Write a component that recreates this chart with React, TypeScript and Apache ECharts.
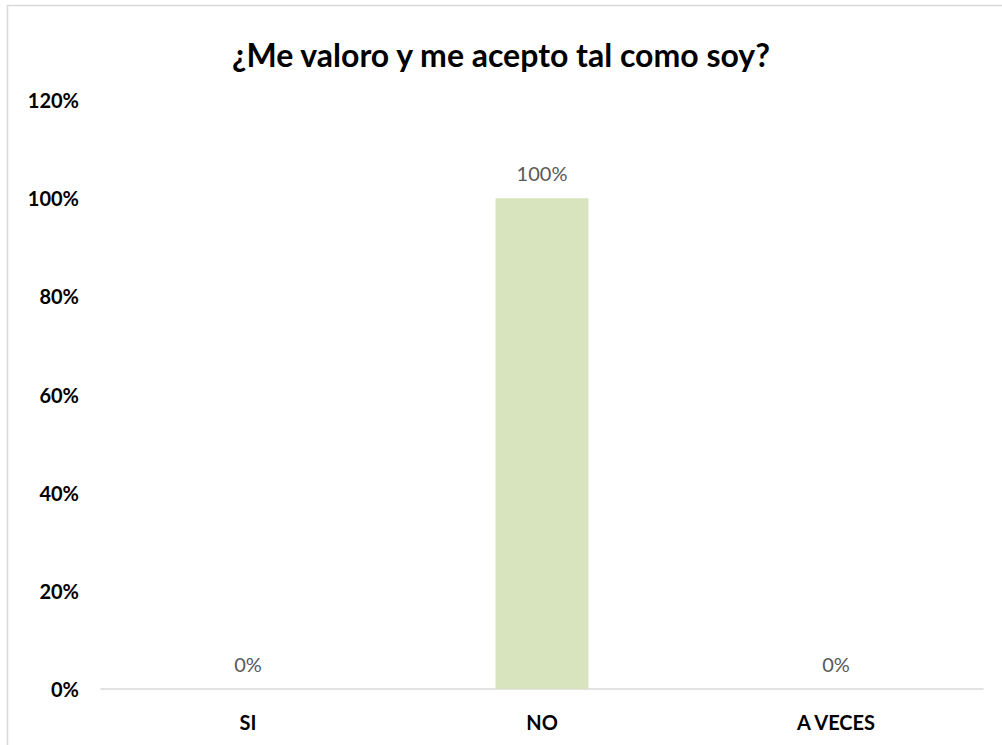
import React, { useEffect, useRef } from "react";
import * as echarts from "echarts";

const categories = ["SI", "NO", "A VECES"];
const values = [0, 1, 0];
const yTicks = [0, 0.2, 0.4, 0.6, 0.8, 1.0, 1.2];
const titleText = "¿Me valoro y me acepto tal como soy?";

const FONT = "Lato, 'Open Sans', sans-serif";

export default function App() {
  const ref = useRef<HTMLDivElement>(null);
  useEffect(() => {
    if (!ref.current) return;
    const chart = echarts.init(ref.current, null, { renderer: "svg" });
    chart.setOption({
      animation: false,
      backgroundColor: "#ffffff",
      title: {
        text: titleText,
        left: "center",
        top: 33,
        textStyle: { fontFamily: FONT, fontWeight: "bold", fontSize: 32, color: "#000000" },
      },
      graphic: [
        {
          type: "rect",
          shape: { x: 7.5, y: 5.5, width: 1010, height: 760 },
          style: { fill: "none", stroke: "#d9d9d9", lineWidth: 1.5 },
          silent: true,
        },
      ],
      grid: { left: 101, right: 19, top: 100, bottom: 56, containLabel: false },
      xAxis: {
        type: "category",
        data: categories,
        axisLine: { show: true, lineStyle: { color: "#d9d9d9", width: 1.5 } },
        axisTick: { show: false },
        axisLabel: {
          margin: 23,
          fontFamily: FONT,
          fontWeight: "bold",
          fontSize: 20,
          color: "#000000",
        },
      },
      yAxis: {
        type: "value",
        min: 0,
        max: yTicks[yTicks.length - 1],
        interval: 0.2,
        splitLine: { show: false },
        axisLine: { show: false },
        axisTick: { show: false },
        axisLabel: {
          margin: 22,
          fontFamily: FONT,
          fontWeight: "bold",
          fontSize: 20,
          color: "#000000",
          formatter: (v: number) => `${Math.round(v * 100)}%`,
        },
      },
      series: [
        {
          type: "bar",
          data: values,
          barWidth: 93,
          itemStyle: { color: "#d7e4bd" },
          label: {
            show: true,
            position: "top",
            distance: 15,
            fontFamily: FONT,
            fontSize: 20,
            color: "#595959",
            formatter: (p: any) => `${Math.round(p.value * 100)}%`,
          },
        },
      ],
    });
    return () => chart.dispose();
  }, []);
  return (
    <div
      ref={ref}
      style={{ position: "fixed", left: 0, top: 0, width: 1002, height: 745 }}
    />
  );
}
